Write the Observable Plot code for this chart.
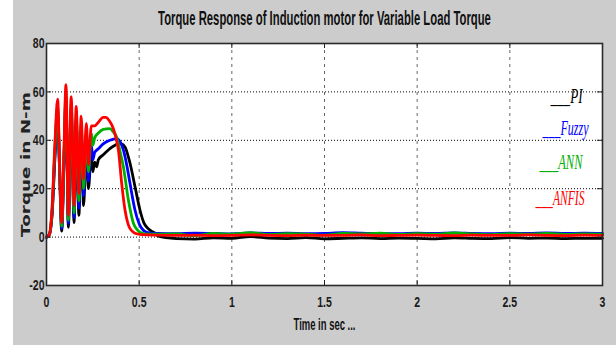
<!DOCTYPE html>
<html><head><meta charset="utf-8">
<script src="https://cdn.jsdelivr.net/npm/d3@7"></script>
<script src="https://cdn.jsdelivr.net/npm/@observablehq/plot@0.6"></script>
<style>
html,body{margin:0;padding:0;background:#fff;}
</style></head><body><div id="chart"></div>
<script>
const titleText = "Torque Response of Induction motor for Variable Load Torque";
const xLabel = "Time in sec ...";
const yLabel = "Torque in N-m";
const seriesNames = ["PI", "Fuzzy", "ANN", "ANFIS"];
const seriesColors = ["#000000", "#0000ff", "#00b000", "#ff0000"];
const xTicks = [0, 0.5, 1, 1.5, 2, 2.5, 3];
const yTicks = [-20, 0, 20, 40, 60, 80];

// steady-state sample times (s)
const tSteady = [0.7,0.8,0.9,1.0,1.1,1.2,1.3,1.4,1.5,1.6,1.7,1.8,1.9,2.0,2.1,2.2,2.3,2.4,2.5,2.6,2.7,2.8,2.9,3.0];

// PI (black)
const tPI = [0,0.015,0.03,0.045,0.06,0.071,0.082,0.094,0.105,0.118,0.133,0.149,0.16,0.175,0.187,0.2,0.215,0.226,0.242,0.25,0.26,0.27,0.28,0.306,0.342,0.37,0.388,0.405,0.424,0.451,0.478,0.505,0.525,0.542,0.565,0.587,0.6];
const vPI = [0,1,9,32,50,26,2.5,30,56,4,51,6,47,9,43,13,38,20,34,27,31,29,32,34,36.6,38,38.6,38.5,37.2,30.4,20.7,11,6,4,2.5,1.6,0.5];
const vPISteady = [-0.6,-0.8,-0.3,-0.5,0.2,-0.4,-0.6,-0.2,-0.7,-0.5,-0.3,-0.6,-0.4,-0.5,-0.7,-0.3,-0.5,-0.6,-0.2,-0.5,-0.4,-0.6,-0.5,-0.5];

// Fuzzy (blue)
const tFuzzy = [0,0.015,0.03,0.045,0.06,0.071,0.082,0.094,0.105,0.118,0.133,0.149,0.16,0.175,0.187,0.2,0.215,0.226,0.242,0.25,0.26,0.28,0.306,0.342,0.378,0.4,0.415,0.435,0.451,0.478,0.5,0.515,0.54,0.58,0.6];
const vFuzzy = [0,1,10,34,52,27,3.5,31,58,5.5,53,8,49,12,45,17,41,23,38,32,35,36.5,38.5,40,40.7,39,35.9,29,22,11,5.5,3.5,2,1.5,1.5];
const vFuzzySteady = [1.4,1.6,1.5,1.3,1.7,1.5,1.6,1.4,1.5,1.8,1.6,1.5,1.4,1.6,1.5,1.7,1.5,1.4,1.6,1.5,1.7,1.5,1.6,1.5];

// ANN (green)
const tANN = [0,0.015,0.03,0.045,0.06,0.071,0.082,0.094,0.105,0.118,0.133,0.149,0.16,0.175,0.187,0.2,0.215,0.226,0.242,0.25,0.26,0.28,0.306,0.342,0.36,0.378,0.395,0.415,0.442,0.47,0.49,0.505,0.54,0.6];
const vANN = [0,1,11,36,54,28,4.5,33,60,7,55,10,51,15,47,20,44,27,43,38,41,43,44.5,44.8,43.5,41.4,36,29,15.2,5.5,3,2,1.2,1.2];
const vANNSteady = [1.3,0.6,1.5,1.2,1.8,1.0,1.4,1.2,0.8,1.5,1.3,1.6,1.1,1.4,1.2,1.7,1.3,1.0,1.4,1.2,1.5,1.1,1.3,1.2];

// ANFIS (red)
const tANFIS = [0,0.015,0.03,0.045,0.06,0.071,0.082,0.094,0.105,0.118,0.133,0.149,0.16,0.175,0.187,0.2,0.215,0.226,0.242,0.26,0.28,0.306,0.32,0.34,0.36,0.375,0.388,0.406,0.424,0.44,0.451,0.47,0.487,0.52,0.6];
const vANFIS = [0,1,12,38,57,30,6,35,63,9,58,13,54,18,50,24,47,30,46,46,47.5,49.5,49.5,48,45,41,36,22,11,5.5,3.5,2,1.4,1,0.8];
const vANFISSteady = [0.7,0.8,0.6,0.7,0.9,0.7,0.6,0.8,0.7,0.7,0.9,0.6,0.7,0.8,0.7,0.6,0.8,0.7,0.7,0.9,0.7,0.6,0.8,0.7];

const seriesT = [tPI.concat(tSteady), tFuzzy.concat(tSteady), tANN.concat(tSteady), tANFIS.concat(tSteady)];
const seriesV = [vPI.concat(vPISteady), vFuzzy.concat(vFuzzySteady), vANN.concat(vANNSteady), vANFIS.concat(vANFISSteady)];

const rows = [];
seriesNames.forEach((name, i) => {
  seriesT[i].forEach((t, j) => rows.push({t, v: seriesV[i][j], series: name}));
});

const W = 616, H = 345, mT = 43, mB = 60, mL = 46, mR = 14;
const pw = W - mL - mR, ph = H - mT - mB;

// legend placement (style only)
const legendStyle = [
  {dx: -20, dy: 59, len: 32},
  {dx: -14, dy: 91, len: 46},
  {dx: -20, dy: 125, len: 43},
  {dx: -18, dy: 161, len: 49}
];

const marks = [
  Plot.frame({fill: "#fff"}),
  Plot.gridY(yTicks, {stroke: "#000", strokeOpacity: 1, strokeDasharray: "1,2"}),
  Plot.gridX(xTicks, {stroke: "#666", strokeOpacity: 1, strokeDasharray: "3,4"}),
  Plot.line(rows, {x: "t", y: "v", z: "series", stroke: "series", strokeWidth: 2.8, curve: "monotone-x"}),
  Plot.tickY(yTicks, {y: d => d, insetRight: pw - 5, stroke: "#222"}),
  Plot.tickY(yTicks, {y: d => d, insetLeft: pw - 5, stroke: "#222"}),
  Plot.tickX(xTicks, {x: d => d, insetTop: ph - 5, stroke: "#222"}),
  Plot.tickX(xTicks, {x: d => d, insetBottom: ph - 5, stroke: "#222"}),
  Plot.axisY({ticks: yTicks, anchor: "left", tickSize: 0, tickPadding: 2, fontSize: 15, fontWeight: "bold", label: null, tickFormat: d => String(d), fill: "#1a1a1a"}),
  Plot.axisX({ticks: xTicks, anchor: "bottom", tickSize: 0, tickPadding: 11, fontSize: 15, fontWeight: "bold", label: null, tickFormat: d => String(d), fill: "#1a1a1a"}),
  Plot.frame({stroke: "#2a2a2a", strokeWidth: 1.6}),
  Plot.text([titleText], {text: d => d, frameAnchor: "top", textAnchor: "middle", dy: -18.5, lineAnchor: "bottom", fontSize: 20, fontWeight: "bold", fill: "#111"}),
  Plot.text([xLabel], {text: d => d, frameAnchor: "bottom", textAnchor: "middle", dy: 44, lineAnchor: "bottom", fontSize: 17, fontWeight: "bold", fill: "#111"}),
  Plot.text([yLabel], {text: d => d, frameAnchor: "left", textAnchor: "middle", dx: -16.5, rotate: -90, lineAnchor: "bottom", fontSize: 13, fontWeight: "bold", fontFamily: "DejaVu Sans", fill: "#222"})
];
seriesNames.forEach((name, i) => {
  marks.push(Plot.text(["___" + name], {text: d => d, frameAnchor: "top-right", textAnchor: "end", lineAnchor: "bottom",
    dx: legendStyle[i].dx, dy: legendStyle[i].dy, fill: seriesColors[i], fontSize: 20, fontStyle: "italic", fontFamily: "Liberation Serif"}));
});

const chart = Plot.plot({
  width: W, height: H,
  marginTop: mT, marginBottom: mB, marginLeft: mL, marginRight: mR,
  style: {fontFamily: "Liberation Sans"},
  x: {domain: [0, 3]},
  y: {domain: [-20, 80]},
  color: {domain: seriesNames, range: seriesColors},
  marks
});
chart.style.background = "linear-gradient(to right, #fff 13px, #cccccc 13px)";
chart.style.display = "block";
document.getElementById("chart").appendChild(chart);

// condense texts horizontally (along their baseline) to match the narrow typeface of the original
const squeeze = (el, sx) => {
  const x = el.getAttribute("x") || 0, y = el.getAttribute("y") || 0;
  const tr = el.getAttribute("transform") || "";
  el.setAttribute("x", 0);
  el.setAttribute("y", 0);
  el.setAttribute("transform", `${tr} translate(${x},${y}) scale(${sx},1)`);
};
const fitWidth = (el, len) => squeeze(el, len / el.getComputedTextLength());
chart.querySelectorAll("text").forEach(el => {
  const s = el.textContent;
  if (s === titleText) fitWidth(el, 333);
  else if (s === xLabel) fitWidth(el, 62);
  else if (s === yLabel) fitWidth(el, 145);
  else if (s.startsWith("___")) {
    const i = seriesNames.indexOf(s.slice(3));
    fitWidth(el, legendStyle[i].len);
  }
});
chart.querySelectorAll('g[aria-label$="tick label"] text').forEach(el => {
  el.setAttribute("textLength", el.getComputedTextLength() * 0.7);
  el.setAttribute("lengthAdjust", "spacingAndGlyphs");
});
</script></body></html>
